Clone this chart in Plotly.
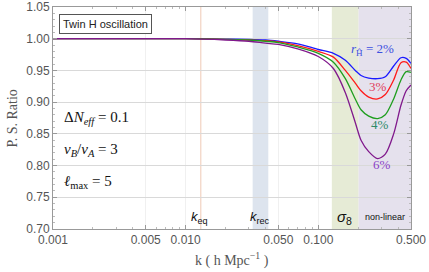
import math
import plotly.graph_objects as go

k = [0.001, 0.005, 0.01, 0.02, 0.03, 0.04, 0.05, 0.07, 0.1, 0.13, 0.16, 0.19,
     0.21, 0.24, 0.28, 0.32, 0.37, 0.42, 0.46, 0.5]
r2 = [1.0, 1.0, 1.0, 0.9995, 0.999, 0.998, 0.996, 0.992, 0.983, 0.977, 0.966, 0.950,
      0.942, 0.938, 0.937, 0.940, 0.957, 0.970, 0.969, 0.961]
r3 = [1.0, 1.0, 1.0, 0.999, 0.998, 0.997, 0.995, 0.989, 0.980, 0.971, 0.950, 0.930,
      0.918, 0.908, 0.905, 0.912, 0.935, 0.962, 0.963, 0.953]
r4 = [1.0, 1.0, 1.0, 0.999, 0.998, 0.996, 0.994, 0.987, 0.977, 0.963, 0.937, 0.905,
      0.888, 0.878, 0.874, 0.880, 0.905, 0.935, 0.948, 0.947]
r6 = [1.0, 1.0, 1.0, 0.998, 0.996, 0.993, 0.991, 0.984, 0.972, 0.953, 0.915, 0.868,
      0.840, 0.822, 0.811, 0.818, 0.850, 0.895, 0.918, 0.927]

series = [("2%", r2, "#1a1aff"), ("3%", r3, "#ff1a1a"),
          ("4%", r4, "#1f9e1f"), ("6%", r6, "#80198c")]

k_eq = 0.013
k_rec = (0.032, 0.042)
sigma8 = (0.1265, 0.2015)
nonlin = (0.2015, 0.5)

xticks = [0.001, 0.005, 0.01, 0.05, 0.1, 0.5]
xticklabels = ["0.001", "0.005", "0.010", "0.050", "0.100", "0.500"]
xminor = [0.002, 0.003, 0.004, 0.006, 0.007, 0.008, 0.009, 0.02, 0.03, 0.04,
          0.06, 0.07, 0.08, 0.09, 0.2, 0.3, 0.4]
yticks = [0.70, 0.75, 0.80, 0.85, 0.90, 0.95, 1.00, 1.05]
yticklabels = ["0.70", "0.75", "0.80", "0.85", "0.90", "0.95", "1.00", "1.05"]

fig = go.Figure()
for name, vals, col in series:
    fig.add_trace(go.Scatter(x=k, y=vals, mode="lines", name=name,
                             line=dict(color=col, width=1.3, shape="spline", smoothing=0.8),
                             showlegend=False))

shapes = [
    dict(type="rect", xref="x", yref="paper", x0=k_rec[0], x1=k_rec[1],
         y0=0, y1=1, fillcolor="#dde4ee", line=dict(width=0), layer="below"),
    dict(type="rect", xref="x", yref="paper", x0=sigma8[0], x1=sigma8[1],
         y0=0, y1=1, fillcolor="#e6ebd6", line=dict(width=0), layer="below"),
    dict(type="rect", xref="x", yref="paper", x0=nonlin[0], x1=nonlin[1],
         y0=0, y1=1, fillcolor="#e5e1ed", line=dict(width=0), layer="below"),
    dict(type="line", xref="x", yref="paper", x0=k_eq, x1=k_eq,
         y0=0, y1=1, line=dict(color="#f3d6c6", width=1.3), layer="below"),
]

serif = "Liberation Serif"
sans = "Liberation Sans"
ann = []
ann.append(dict(xref="paper", yref="paper", x=(59 - 53) / 358, y=(229 - 13.5) / 223,
                xanchor="left", yanchor="top", showarrow=False,
                text="Twin H oscillation", font=dict(family=sans, size=11, color="#222"),
                bordercolor="#555", borderwidth=1, borderpad=3, bgcolor="white"))
for txt, py in [("Δ<i>N</i><sub><i>eff</i></sub> = 0.1", 117),
                ("<i>v</i><sub><i>B</i></sub>/<i>v</i><sub><i>A</i></sub> = 3", 150),
                ("<i>ℓ</i><sub>max</sub> = 5", 182)]:
    ann.append(dict(xref="paper", yref="paper", x=(62 - 53) / 358, y=(229 - py) / 223,
                    xanchor="left", yanchor="middle", showarrow=False, text=txt,
                    font=dict(family=serif, size=15, color="#111")))
for txt, kx, sz in [("<i>k</i><sub>eq</sub>", 0.0128, 13), ("<i>k</i><sub>rec</sub>", 0.0366, 13),
                    ("<i>σ</i><sub>8</sub>", 0.158, 15)]:
    ann.append(dict(xref="x", yref="paper", x=math.log10(kx), y=(229 - 217) / 223,
                    xanchor="center", yanchor="middle", showarrow=False, text=txt,
                    font=dict(family=sans, size=sz, color="#111")))
ann.append(dict(xref="x", yref="paper", x=math.log10(0.32), y=(229 - 217) / 223,
                xanchor="center", yanchor="middle", showarrow=False, text="non-linear",
                font=dict(family=sans, size=9, color="#111")))
for txt, kx, yv, col in [("<i>r</i><sub>Ĥ</sub> = 2%", 0.255, 0.983, "#3c4fe0"),
                         ("3%", 0.283, 0.925, "#e0405a"),
                         ("4%", 0.29, 0.865, "#2f8a68"),
                         ("6%", 0.30, 0.801, "#8a3fc8")]:
    ann.append(dict(xref="x", yref="y", x=math.log10(kx), y=yv, xanchor="center",
                    yanchor="middle", showarrow=False, text=txt,
                    font=dict(family=serif, size=13, color=col)))
# axis titles
ann.append(dict(xref="paper", yref="paper", x=(232 - 53) / 358, y=(229 - 260) / 223,
                xanchor="center", yanchor="middle", showarrow=False,
                text="k ( h Mpc<sup>−1</sup> )",
                font=dict(family=serif, size=14, color="#555")))
ann.append(dict(xref="paper", yref="paper", x=(12 - 53) / 358, y=(229 - 118) / 223,
                xanchor="center", yanchor="middle", showarrow=False, textangle=-90,
                text="P. S. Ratio", font=dict(family=serif, size=14, color="#555")))

fig.update_layout(
    width=429, height=272, margin=dict(l=53, r=18, t=6.5, b=43, autoexpand=False),
    paper_bgcolor="white", plot_bgcolor="white",
    shapes=shapes, annotations=ann,
    xaxis=dict(type="log", range=[-3, math.log10(0.5)], tickvals=xticks, ticktext=xticklabels,
               ticks="inside", ticklen=4, tickcolor="#999", showline=True, linecolor="#999",
               mirror="ticks", showgrid=True, gridcolor="#f0f0f0", zeroline=False,
               automargin=False, ticklabeloverflow="allow",
               tickfont=dict(family=sans, size=12, color="#555"),
               minor=dict(tickvals=xminor, ticks="inside", ticklen=2, tickcolor="#bbb", showgrid=False)),
    yaxis=dict(range=[0.70, 1.05], tickvals=yticks, ticktext=yticklabels,
               ticks="inside", ticklen=4, tickcolor="#999", showline=True, linecolor="#999",
               mirror="ticks", showgrid=True, gridcolor="#d9d9d9", zeroline=False,
               automargin=False, ticklabeloverflow="allow",
               tickfont=dict(family=sans, size=12, color="#555"),
               minor=dict(dtick=0.01, ticks="inside", ticklen=2, tickcolor="#bbb", showgrid=False)),
)

fig.write_html("out.html", config={"displayModeBar": False},
               post_script="document.body.style.margin='0px';")
